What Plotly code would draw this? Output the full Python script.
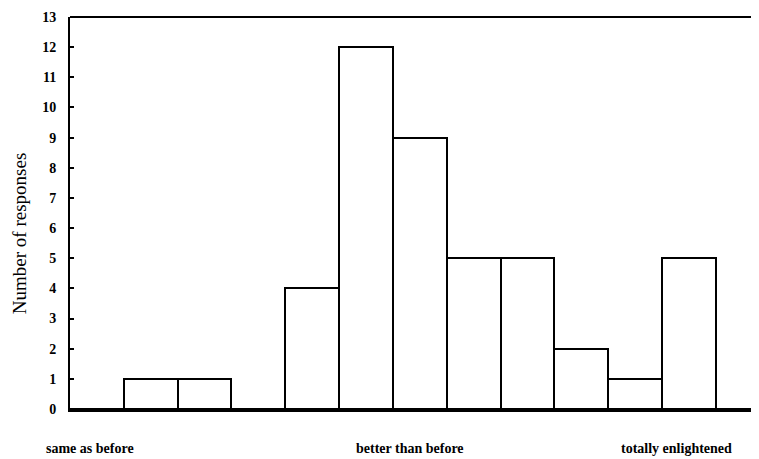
import plotly.graph_objects as go

bins = list(range(13))
counts = [0, 1, 1, 0, 4, 12, 9, 5, 5, 2, 1, 5, 0]
yticks = list(range(14))
cat_labels = ["same as before", "better than before", "totally enlightened"]
cat_pos = [-0.13, 5.82, 10.76]

fig = go.Figure()
fig.add_trace(go.Bar(
    x=bins, y=counts, width=1.0,
    marker=dict(color="white", line=dict(color="black", width=2)),
    showlegend=False, hoverinfo="skip",
))

serif = "Liberation Serif, Times New Roman, serif"

for lab, pos in zip(cat_labels, cat_pos):
    fig.add_annotation(x=pos, xref="x", y=-0.102, yref="paper", text="<b>" + lab + "</b>",
                       showarrow=False, font=dict(family=serif, size=14, color="black"),
                       xanchor="center", yanchor="middle")

fig.add_annotation(x=-0.074, xref="paper", y=0.446, yref="paper", text="Number of responses",
                   textangle=-90, showarrow=False,
                   font=dict(family=serif, size=19, color="black"),
                   xanchor="center", yanchor="middle")

fig.add_shape(type="line", xref="paper", yref="paper", x0=0, x1=1, y0=1, y1=1,
              line=dict(color="black", width=2))

# page body has an 8px default margin, so the figure is offset by 8px
fig.update_layout(
    width=751, height=451,
    margin=dict(l=62, r=0, t=9, b=50),
    plot_bgcolor="white", paper_bgcolor="white",
    bargap=0,
    xaxis=dict(range=[-0.5, 12.3], showticklabels=False, ticks="", showgrid=False,
               zeroline=False, showline=True, linecolor="black", linewidth=2.5),
    yaxis=dict(range=[0, 13], tickvals=yticks, ticktext=["<b>%d</b>" % v for v in yticks],
               ticks="inside", ticklen=4, tickcolor="black", tickwidth=1.5,
               showgrid=False, zeroline=False, showline=True, linecolor="black", linewidth=2,
               tickfont=dict(family=serif, size=14, color="black"), ticklabelstandoff=9),
)

fig.write_html("out.html")
